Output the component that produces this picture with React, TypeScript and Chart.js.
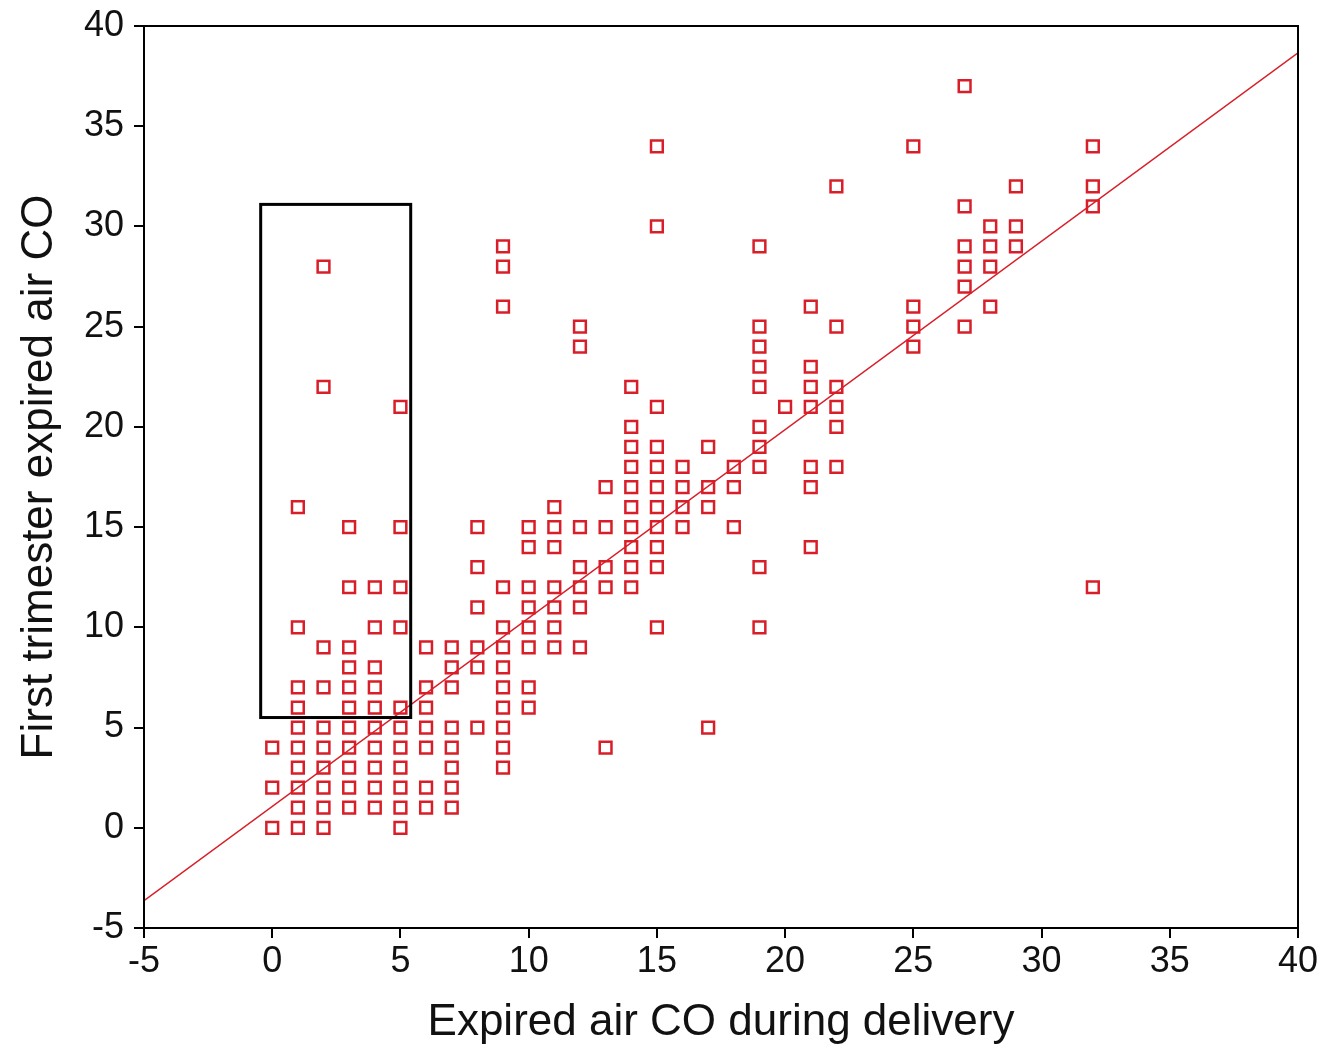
import React, { useEffect, useRef } from "react";
import { Chart, registerables } from "chart.js";

Chart.register(...registerables);

// Expired air CO during delivery (x) – one entry per column of points
const deliveryCO = [0, 1, 2, 3, 4, 5, 6, 7, 8, 9, 10, 11, 12, 13, 14, 15, 16, 17, 18, 19, 20, 21, 22, 25, 27, 28, 29, 32];
// First trimester expired air CO (y) for each delivery value above
const firstTrimesterCO = [
  [0, 2, 4],
  [0, 1, 2, 3, 4, 5, 6, 7, 10, 16],
  [0, 1, 2, 3, 4, 5, 7, 9, 22, 28],
  [1, 2, 3, 4, 5, 6, 7, 8, 9, 12, 15],
  [1, 2, 3, 4, 5, 6, 7, 8, 10, 12],
  [0, 1, 2, 3, 4, 5, 6, 10, 12, 15, 21],
  [1, 2, 4, 5, 6, 7, 9],
  [1, 2, 3, 4, 5, 7, 8, 9],
  [5, 8, 9, 11, 13, 15],
  [3, 4, 5, 6, 7, 8, 9, 10, 12, 26, 28, 29],
  [6, 7, 9, 10, 11, 12, 14, 15],
  [9, 10, 11, 12, 14, 15, 16],
  [9, 11, 12, 13, 15, 24, 25],
  [4, 12, 13, 15, 17],
  [12, 13, 14, 15, 16, 17, 18, 19, 20, 22],
  [10, 13, 14, 15, 16, 17, 18, 19, 21, 30, 34],
  [15, 16, 17, 18],
  [5, 16, 17, 19],
  [15, 17, 18],
  [10, 13, 18, 19, 20, 22, 23, 24, 25, 29],
  [21],
  [14, 17, 18, 21, 22, 23, 26],
  [18, 20, 21, 22, 25, 32],
  [24, 25, 26, 34],
  [25, 27, 28, 29, 31, 37],
  [26, 28, 29, 30],
  [29, 30, 32],
  [12, 31, 32, 34],
];

// Fitted regression line
const fitIntercept = 1.06;
const fitSlope = 0.94;
const fitRange = [-5, 40];

// Highlight box (data units)
const boxX = [-0.45, 5.4];
const boxY = [5.5, 31.1];

// Axes
const axisMin = -5;
const axisMax = 40;
const axisStep = 5;
const xTitle = "Expired air CO during delivery";
const yTitle = "First trimester expired air CO";

const RED = "#d81e28";
const FONT = "'Liberation Sans', Arial, Helvetica, sans-serif";

const framePlugin = {
  id: "frameAndBox",
  afterDatasetsDraw(chart: any) {
    const { ctx, chartArea, scales } = chart;
    ctx.save();
    ctx.strokeStyle = "#000";
    ctx.lineWidth = 2;
    ctx.strokeRect(chartArea.left, chartArea.top, chartArea.right - chartArea.left, chartArea.bottom - chartArea.top);
    const x0 = scales.x.getPixelForValue(boxX[0]);
    const x1 = scales.x.getPixelForValue(boxX[1]);
    const y0 = scales.y.getPixelForValue(boxY[1]);
    const y1 = scales.y.getPixelForValue(boxY[0]);
    ctx.lineWidth = 3;
    ctx.strokeRect(x0, y0, x1 - x0, y1 - y0);
    ctx.restore();
  },
};

export default function App() {
  const ref = useRef<HTMLCanvasElement | null>(null);

  useEffect(() => {
    if (!ref.current) return;
    const points: { x: number; y: number }[] = [];
    deliveryCO.forEach((xv, i) => {
      firstTrimesterCO[i].forEach((yv) => points.push({ x: xv, y: yv }));
    });
    const fitLine = fitRange.map((xv) => ({ x: xv, y: fitIntercept + fitSlope * xv }));

    const chart = new Chart(ref.current, {
      type: "scatter",
      data: {
        datasets: [
          {
            data: fitLine,
            showLine: true,
            borderColor: RED,
            borderWidth: 1.5,
            pointRadius: 0,
            fill: false,
          } as any,
          {
            data: points,
            pointStyle: "rect",
            pointRadius: 8.3,
            pointBorderWidth: 2.5,
            pointBorderColor: RED,
            pointBackgroundColor: "rgba(255,255,255,0)",
            showLine: false,
          } as any,
        ],
      },
      options: {
        animation: false,
        responsive: true,
        maintainAspectRatio: false,
        layout: { padding: { top: 26, right: 19, left: 0, bottom: 0 } },
        plugins: { legend: { display: false }, tooltip: { enabled: false } },
        scales: {
          x: {
            type: "linear",
            min: axisMin,
            max: axisMax,
            afterFit: (s: any) => {
              s.height = 119;
              s.paddingLeft = 0;
              s.paddingRight = 0;
            },
            ticks: { stepSize: axisStep, color: "#111", font: { family: FONT, size: 36 }, padding: 2, maxRotation: 0 },
            grid: { drawOnChartArea: false, drawTicks: true, tickLength: 10, color: "#000", lineWidth: 2 },
            border: { display: true, color: "#000", width: 2 },
            title: {
              display: true,
              text: xTitle,
              color: "#111",
              font: { family: FONT, size: 44, lineHeight: 1 },
              padding: { top: 0, bottom: 2 },
            },
          },
          y: {
            type: "linear",
            min: axisMin,
            max: axisMax,
            afterFit: (s: any) => {
              s.width = 144;
              s.paddingTop = 0;
              s.paddingBottom = 0;
            },
            ticks: { stepSize: axisStep, color: "#111", font: { family: FONT, size: 36 }, padding: 10 },
            grid: { drawOnChartArea: false, drawTicks: true, tickLength: 10, color: "#000", lineWidth: 2 },
            border: { display: true, color: "#000", width: 2 },
            title: {
              display: true,
              text: yTitle,
              color: "#111",
              font: { family: FONT, size: 44, lineHeight: 1 },
              padding: { top: 18, bottom: 0 },
            },
          },
        },
      },
      plugins: [framePlugin],
    });
    return () => chart.destroy();
  }, []);

  return (
    <div style={{ position: "absolute", left: 0, top: 0, width: 1317, height: 1047, background: "#fff" }}>
      <canvas ref={ref} />
    </div>
  );
}
